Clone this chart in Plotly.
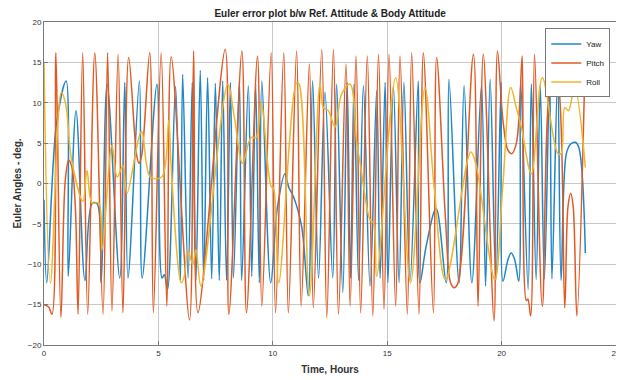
import plotly.graph_objects as go

# ---- data ----
pitch_x = [0, 0.2, 0.35, 0.52, 0.74, 0.93, 1.08, 1.22, 1.37, 1.49, 1.69, 1.91, 2.22, 2.58, 2.78, 2.97,
           3.24, 3.45, 3.70, 4.05, 4.15, 4.27, 4.62, 4.78, 5.12, 5.37, 5.56, 6.36, 6.54, 6.73, 7.92,
           8.08, 8.65, 8.85, 9.33, 9.52, 9.93, 10.12, 10.48, 10.68, 11.04, 11.24, 11.6, 11.77, 12.14,
           12.36, 12.65, 12.87, 13.2, 13.38, 13.64, 13.84, 14.13, 14.37, 14.62, 14.86, 15.08, 15.37,
           15.56, 15.88, 16.07, 16.39, 16.58, 17.02, 17.16, 17.55, 17.77, 17.92, 18.07, 18.77, 18.97,
           19.2, 19.67, 19.82, 20.06, 20.28, 20.45, 20.64, 20.79, 20.9, 21.08, 21.15, 21.27, 21.44,
           21.78, 22.17, 22.32, 22.46, 22.76, 22.9, 23.02, 23.13, 23.29, 23.63]
pitch_y = [-15, -15.3, -16.2, 16.2, -16.6, 0.4, 2.9, 2, -2.9, -16.2, 16.2, -16.2, 16.2, -16.2, 16.2, -15.8,
           16.0, -16.0, 15.6, 3.5, 2.5, 3.5, 16.2, -16, 16.2, -15.2, 15.7, -16.9, 16.4, -16, 16.6,
           -16.2, 16.4, -16, 15.8, -15.2, 16.2, -16, 16.2, -16, 16.4, -15.2, 14.8, -15.4, 16.6,
           -16.6, 16.6, -16.2, 14.8, -15.2, 15.8, -16, 15.8, -16.4, 16, -15.6, 16, -15.2,
           15.8, -16.2, 16.2, -16.2, 16.2, -16, 15.6, -4.5, -12.3, -12.9, -12.5, 16, -15.2,
           16, -17, 16.4, 7.8, 4.1, 3.7, 4.9, 9.8, 15.8, -14.5, -14.3, -16.4, 16,
           -15.2, 12.9, 13.3, 12.7, -15.4, -2.9, -1.2, -2.9, -16.4, 12.9]

yaw_x = [0, 0.12, 0.55, 0.97, 1.06, 1.4, 1.79, 2.1, 2.32, 2.5, 2.76, 3.31, 3.53, 3.67, 4.17, 4.29, 4.94,
         5.16, 5.26, 5.4, 5.75, 5.96, 6.06, 6.3, 6.48, 6.64, 6.83, 6.98, 7.15, 7.33, 7.49, 7.66, 7.81,
         7.98, 8.15, 8.28, 8.54, 8.64, 8.93, 9.08, 9.25, 9.41, 9.52, 9.91, 10.2, 10.53, 10.7, 10.9,
         11.26, 11.55, 11.74, 12.0, 12.28, 12.62, 12.79, 13.06, 13.25, 13.4, 13.55, 13.75, 13.96,
         14.25, 14.54, 14.69, 14.91, 15.03, 15.27, 15.52, 15.73, 16.0, 16.36, 16.43, 16.7, 17.14,
         17.58, 17.7, 18.14, 18.36, 18.7, 19.12, 19.3, 19.5, 19.75, 19.98, 20.06, 20.28, 20.42,
         20.57, 20.75, 20.83, 21.16, 21.3, 21.51, 21.69, 21.87, 22.1, 22.2, 22.45, 22.6, 22.83,
         23.02, 23.22, 23.37, 23.66]
yaw_y = [-2, -12.3, 7.5, 12.7, -11.5, 9, -12, -2.5, -2.5, -12.3, 12.3, -11.7, 12.5, -11.7, 12.7, -11.7, 12.3,
         -11.7, -11.3, -13.1, 12, -12, 13.5, -11.7, 12.5, -12, 14, -12, 13.1, -11.8, 12.4, -12, 12.7,
         -12, 12.5, -11.7, 12.7, -12, 12.1, -11.5, 12.3, -12.3, 12.7, -12.3, -3, 1.2, -0.5, -1.6,
         -5.3, -13.9, 12.7, -11.7, 11.3, -11.7, 12.3, -13.5, 12.5, -11.7, 12.3, -12, 12.1,
         -12.7, 11.5, -11.7, 12.5, -12.3, 12.1, -12.3, 12.5, -12, 12.7, -12.3, -7.8, -3.1,
         -12.3, 12.9, -12.3, 12.1, -12.3, 12.1, -12.7, 12.9, -12, 12.5, -12.1, -9.4, -8.6,
         -9.4, -12.1, 12.7, -13.1, 12.3, -11.9, 12.1, -11.8, 12.9, -11.8, 13.1, -12, 3.7,
         4.9, 5.1, 4.5, -8.6]

roll_x = [0, 0.28, 0.76, 0.95, 1.2, 1.7, 1.88, 2.1, 2.39, 2.54, 2.97, 3.2, 3.45, 3.63, 4.26, 4.65, 5.15,
          5.45, 5.55, 6.0, 6.13, 6.28, 6.5, 6.64, 6.86, 8.03, 8.32, 8.68, 9.05, 9.27, 9.49, 9.93,
          10.03, 10.26, 11.04, 11.15, 11.6, 12.06, 12.21, 12.43, 12.72, 13.01, 13.38, 13.67, 13.81,
          14.25, 14.4, 14.54, 15.37, 16.02, 16.65, 17.05, 17.55, 18.65, 18.87, 19.7, 20.06, 20.4,
          20.64, 20.86, 21.3, 21.78, 22.46, 22.6, 22.76, 22.92, 23.19, 23.66]
roll_y = [15, -12.3, 11.3, 9.8, 3, -2.2, 1.6, -2.4, -2.4, -8.2, 4.7, 0.8, 2.2, -1.2, 6.4, 0.8, 0.8,
          7.8, 2.5, -12.3, -11.5, -8.2, -10, -8.2, -12.7, 12.3, 8.2, 2.5, 5.7, 5.7, 10, -0.4,
          -0.6, -12.3, 12.5, 12.3, -13.9, 12.3, 9.4, 9, 7, 11.1, 12.3, 4.9, 2.7,
          -4.5, -4.9, -11.5, 13.1, -12.3, 11.9, -0.4, -11.9, 3.9, 2.5, -11.9, 0, 11.9,
          9.4, 7, 1.2, 13.1, 3.7, 3.7, 9.4, 9, 11.9, 2]

assert len(pitch_x) == len(pitch_y), (len(pitch_x), len(pitch_y))
assert len(yaw_x) == len(yaw_y), (len(yaw_x), len(yaw_y))
assert len(roll_x) == len(roll_y), (len(roll_x), len(roll_y))

x_ticks = [0, 5, 10, 15, 20, 25]
y_ticks = [-20, -15, -10, -5, 0, 5, 10, 15, 20]

FONT = "Liberation Sans, Arial, sans-serif"
series = [
    ("Yaw", yaw_x, yaw_y, "#1f86c8"),
    ("Pitch", pitch_x, pitch_y, "#e05a24"),
    ("Roll", roll_x, roll_y, "#efb52c"),
]

fig = go.Figure()
for name, xs, ys, col in series:
    fig.add_trace(go.Scatter(x=xs, y=ys, mode="lines", name=name,
                             line=dict(color=col, width=1.5, shape="spline", smoothing=1.0)))

axis_common = dict(showgrid=True, gridcolor="#c8c8c8", gridwidth=1, showline=True,
                   linecolor="#7a7a7a", linewidth=1, mirror=True, zeroline=False,
                   ticks="inside", ticklen=4, tickcolor="#7a7a7a", automargin=False,
                   tickfont=dict(family=FONT, size=8, color="#333333"))

# the page body adds an 8px offset, so the figure is sized to 616x372
fig.update_layout(
    width=616, height=372,
    margin=dict(l=36, r=8, t=14, b=35),
    paper_bgcolor="white", plot_bgcolor="white",
    title=dict(text="<b>Euler error plot b/w Ref. Attitude &amp; Body Attitude</b>",
               x=0.523, xanchor="center", y=0.984, yanchor="middle",
               font=dict(family=FONT, size=10, color="#222222")),
    xaxis=dict(range=[0, 25], tickvals=x_ticks,
               title=dict(text="<b>Time, Hours</b>", standoff=9,
                          font=dict(family=FONT, size=10, color="#333333")),
               **axis_common),
    yaxis=dict(range=[-20, 20], tickvals=y_ticks,
               title=dict(text="<b>Euler Angles - deg.</b>", standoff=4,
                          font=dict(family=FONT, size=10, color="#333333")),
               **axis_common),
    legend=dict(x=0.99, xanchor="right", y=0.98, yanchor="top",
                bgcolor="white", bordercolor="#7a7a7a", borderwidth=1,
                font=dict(family=FONT, size=8, color="#222222"),
                tracegroupgap=0, itemwidth=30),
    showlegend=True,
)

fig.write_html("out.html")
